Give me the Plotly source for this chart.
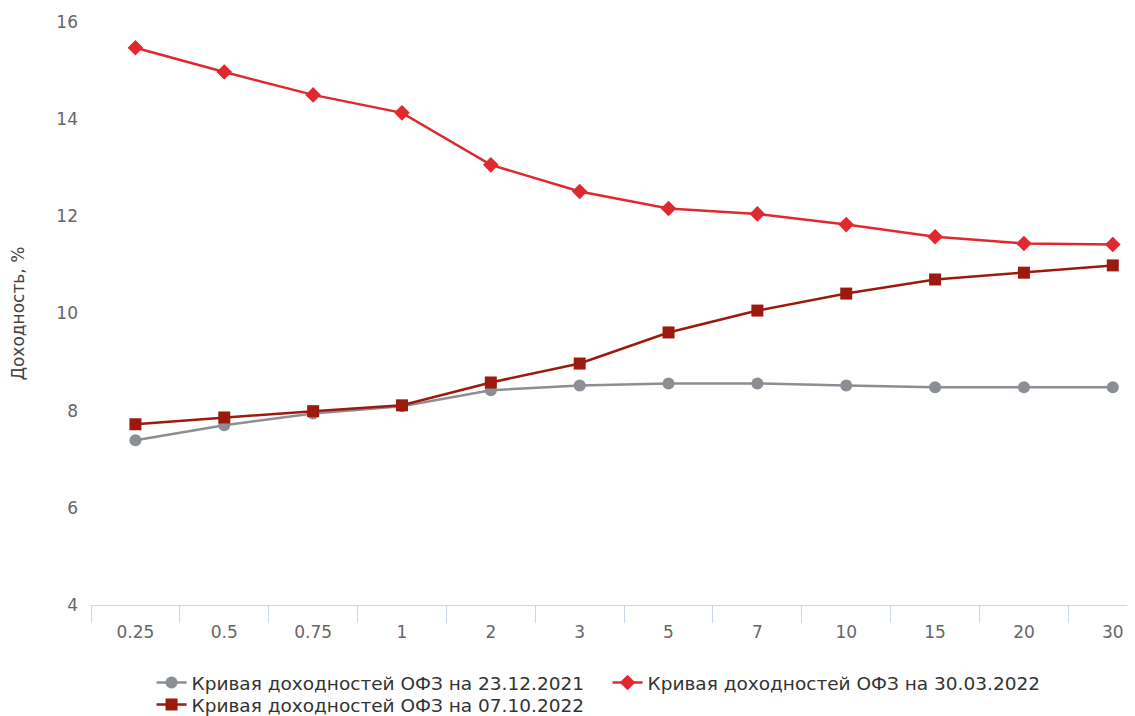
import plotly.graph_objects as go

maturities = ["0.25", "0.5", "0.75", "1", "2", "3", "5", "7", "10", "15", "20", "30"]
ofz_2021_12_23 = [7.39, 7.70, 7.94, 8.09, 8.42, 8.52, 8.56, 8.56, 8.52, 8.48, 8.48, 8.48]
ofz_2022_03_30 = [15.47, 14.97, 14.50, 14.13, 13.06, 12.51, 12.16, 12.05, 11.83, 11.58, 11.44, 11.42]
ofz_2022_10_07 = [7.72, 7.86, 7.99, 8.11, 8.58, 8.97, 9.61, 10.06, 10.41, 10.70, 10.84, 10.99]

names = [
    "Кривая доходностей ОФЗ на 23.12.2021",
    "Кривая доходностей ОФЗ на 30.03.2022",
    "Кривая доходностей ОФЗ на 07.10.2022",
]

FONT = "DejaVu Sans"
LEGEND_FONT = dict(family=FONT, size=18.5, color="#333333")

fig = go.Figure()
fig.add_trace(go.Scatter(
    x=maturities, y=ofz_2021_12_23, name=names[0], mode="lines+markers",
    line=dict(color="#8B8E92", width=2.5),
    marker=dict(symbol="circle", size=12, color="#8B8E92"),
    legend="legend",
))
fig.add_trace(go.Scatter(
    x=maturities, y=ofz_2022_03_30, name=names[1], mode="lines+markers",
    line=dict(color="#E0282E", width=2.5),
    marker=dict(symbol="diamond", size=12, color="#E0282E"),
    legend="legend",
))
fig.add_trace(go.Scatter(
    x=maturities, y=ofz_2022_10_07, name=names[2], mode="lines+markers",
    line=dict(color="#9C1A0D", width=2.5),
    marker=dict(symbol="square", size=12, color="#9C1A0D"),
    legend="legend2",
))

fig.update_layout(
    width=1135, height=716,
    paper_bgcolor="white", plot_bgcolor="white",
    margin=dict(l=83, r=8, t=14, b=119, autoexpand=False),
    font=dict(family=FONT, color="#666666", size=16),
    showlegend=True,
    legend=dict(
        orientation="h", x=0.058, xanchor="left", y=-0.1338, yanchor="middle",
        font=LEGEND_FONT, entrywidth=411, entrywidthmode="pixels",
        itemwidth=30, traceorder="normal", bgcolor="rgba(0,0,0,0)",
    ),
    legend2=dict(
        orientation="h", x=0.058, xanchor="left", y=-0.1715, yanchor="middle",
        font=LEGEND_FONT, entrywidth=411, entrywidthmode="pixels",
        itemwidth=30, bgcolor="rgba(0,0,0,0)",
    ),
    xaxis=dict(
        type="category", range=[-0.5, 11.25], automargin=False,
        showgrid=False, zeroline=False,
        showline=True, linecolor="#ccd6eb", linewidth=1,
        ticks="outside", tickson="boundaries", ticklen=17, tickcolor="#ccd6eb",
        tickfont=dict(family=FONT, size=17, color="#666666"),
        ticklabelstandoff=12,
    ),
    yaxis=dict(
        range=[4, 16], dtick=2, tick0=4, automargin=False,
        showgrid=False, zeroline=False, showline=False,
        tickfont=dict(family=FONT, size=17, color="#666666"),
        ticklabelstandoff=12,
        title=dict(text="Доходность, %", font=dict(family=FONT, size=17, color="#444444"), standoff=31),
    ),
)

fig.write_html("out.html")
